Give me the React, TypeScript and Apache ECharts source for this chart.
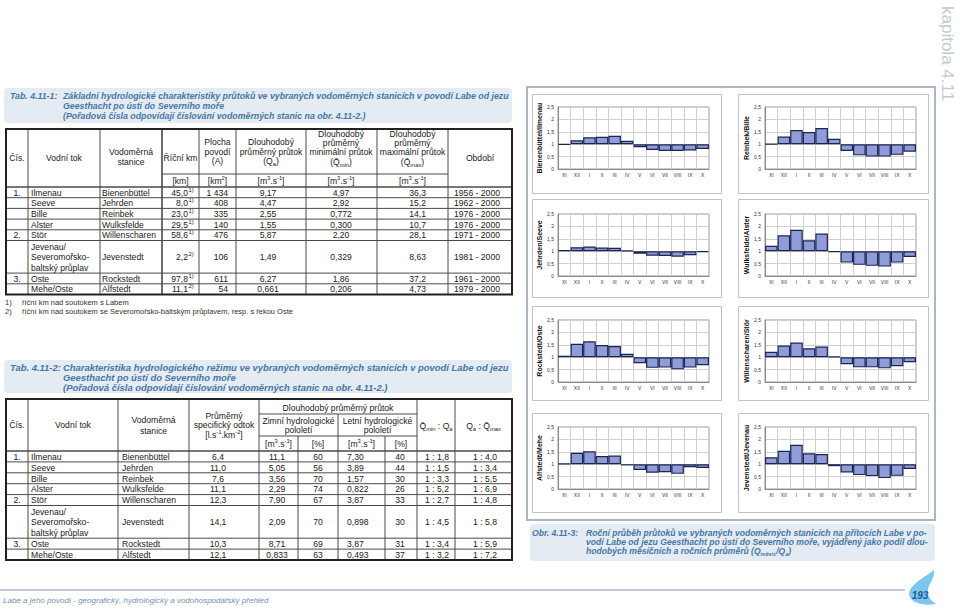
import React, { useEffect, useRef } from "react";
import * as echarts from "echarts";

// ---------------- small charts (Qměsíc / Qa) ----------------
const MONTHS = ["XI", "XII", "I", "II", "III", "IV", "V", "VI", "VII", "VIII", "IX", "X"];
const bienenbuettelIlmenau = [0.98, 1.16, 1.28, 1.3, 1.34, 1.14, 0.88, 0.77, 0.73, 0.73, 0.75, 0.81];
const reinbekBille = [1.01, 1.31, 1.57, 1.49, 1.65, 1.22, 0.73, 0.55, 0.5, 0.5, 0.57, 0.7];
const jehrdenSeeve = [1.04, 1.16, 1.19, 1.15, 1.14, 1.03, 0.9, 0.82, 0.81, 0.78, 0.84, 0.96];
const wulksfeldeAlster = [1.22, 1.64, 1.86, 1.44, 1.71, 0.96, 0.54, 0.45, 0.41, 0.38, 0.54, 0.77];
const rockstedtOste = [1.06, 1.54, 1.64, 1.49, 1.45, 1.14, 0.76, 0.57, 0.58, 0.51, 0.58, 0.68];
const willenscharenStoer = [1.22, 1.47, 1.59, 1.36, 1.43, 1.03, 0.72, 0.59, 0.59, 0.55, 0.64, 0.8];
const alfstedtMehe = [1.02, 1.46, 1.52, 1.33, 1.35, 0.95, 0.77, 0.66, 0.68, 0.61, 0.88, 0.85];
const jevenstedtJevenau = [1.28, 1.54, 1.78, 1.44, 1.41, 0.92, 0.67, 0.56, 0.52, 0.44, 0.53, 0.81];
const CHART_NAMES = [
  "Bienenbüttel/Ilmenau", "Reinbek/Bille",
  "Jehrden/Seeve", "Wulksfelde/Alster",
  "Rockstedt/Oste", "Willenscharen/Stör",
  "Alfstedt/Mehe", "Jevenstedt/Jevenau",
];
const CHART_VALUES = [
  bienenbuettelIlmenau, reinbekBille,
  jehrdenSeeve, wulksfeldeAlster,
  rockstedtOste, willenscharenStoer,
  alfstedtMehe, jevenstedtJevenau,
];

// ---------------- table 4.11-1 ----------------
const T1_CIS = ["1.", "", "", "", "2.", "", "3.", ""];
const T1_TOK = ["Ilmenau", "Seeve", "Bille", "Alster", "Stör", "Jevenau/\nSeveromořsko-\nbaltský průplav", "Oste", "Mehe/Oste"];
const T1_STANICE = ["Bienenbüttel", "Jehrden", "Reinbek", "Wulksfelde", "Willenscharen", "Jevenstedt", "Rockstedt", "Alfstedt"];
const T1_KM = ["45,0", "8,0", "23,0", "29,5", "58,6", "2,2", "97,8", "11,1"];
const T1_KM_NOTE = ["1)", "1)", "1)", "1)", "1)", "2)", "1)", "2)"];
const T1_PLOCHA = ["1 434", "408", "335", "140", "476", "106", "611", "54"];
const T1_QA = ["9,17", "4,47", "2,55", "1,55", "5,87", "1,49", "6,27", "0,661"];
const T1_QMIN = ["4,97", "2,92", "0,772", "0,300", "2,20", "0,329", "1,86", "0,206"];
const T1_QMAX = ["36,3", "15,2", "14,1", "10,7", "28,1", "8,63", "37,2", "4,73"];
const T1_OBDOBI = ["1956 - 2000", "1962 - 2000", "1976 - 2000", "1976 - 2000", "1971 - 2000", "1981 - 2000", "1961 - 2000", "1979 - 2000"];

// ---------------- table 4.11-2 ----------------
const T2_SPEC = ["6,4", "11,0", "7,6", "11,1", "12,3", "14,1", "10,3", "12,1"];
const T2_ZIMA_Q = ["11,1", "5,05", "3,56", "2,29", "7,90", "2,09", "8,71", "0,833"];
const T2_ZIMA_P = ["60", "56", "70", "74", "67", "70", "69", "63"];
const T2_LETO_Q = ["7,30", "3,89", "1,57", "0,822", "3,87", "0,898", "3,87", "0,493"];
const T2_LETO_P = ["40", "44", "30", "26", "33", "30", "31", "37"];
const T2_R1 = ["1 : 1,8", "1 : 1,5", "1 : 3,3", "1 : 5,2", "1 : 2,7", "1 : 4,5", "1 : 3,4", "1 : 3,2"];
const T2_R2 = ["1 : 4,0", "1 : 3,4", "1 : 5,5", "1 : 6,9", "1 : 4,8", "1 : 5,8", "1 : 5,9", "1 : 7,2"];

const CAP1 = [
  "Základní hydrologické charakteristiky průtoků ve vybraných vodoměrných stanicích v povodí Labe od jezu",
  "Geesthacht po ústí do Severního moře",
  "(Pořadová čísla odpovídají číslování vodoměrných stanic na obr. 4.11-2.)",
];
const CAP2 = [
  "Charakteristika hydrologického režimu ve vybraných vodoměrných stanicích v povodí Labe od jezu",
  "Geesthacht po ústí do Severního moře",
  "(Pořadová čísla odpovídají číslování vodoměrných stanic na obr. 4.11-2.)",
];
const CAP3 = [
  "Roční průběh průtoků ve vybraných vodoměrných stanicích na přítocích Labe v po-",
  "vodí Labe od jezu Geesthacht po ústí do Severního moře, vyjádřený jako podíl dlou-",
  "hodobých měsíčních a ročních průměrů (Q",
];
const FOOTNOTES = [
  "říční km nad soutokem s Labem",
  "říční km nad soutokem se Severomořsko-baltským průplavem, resp. s řekou Oste",
];
const FOOTER = "Labe a jeho povodí - geografický, hydrologický a vodohospodářský přehled";

// ---------------- drawing helpers ----------------
const FF = "'Liberation Sans', Arial, Helvetica, sans-serif";
const TXT = "#1a1a1a";
const CAPC = "#4677a6";
const LINE = "#4a4a4a";
const FS = 8.6;

let mctx: any = null;
function tw(text: string, size: number, bold = false, italic = false) {
  if (!mctx) mctx = document.createElement("canvas").getContext("2d");
  mctx.font = `${italic ? "italic " : ""}${bold ? "bold " : ""}${size}px ${FF}`;
  return mctx.measureText(text).width;
}
function T(x: number, y: number, text: string, o: any = {}) {
  const size = o.size || FS;
  return {
    type: "text", x, y, silent: true, rotation: o.rot || 0,
    style: {
      text, fill: o.fill || TXT, fontSize: size, fontFamily: FF,
      fontWeight: o.bold ? "bold" : "normal", fontStyle: o.italic ? "italic" : "normal",
      textAlign: o.align || "left", textVerticalAlign: o.va || "middle",
      lineHeight: o.lh || Math.round(size * 1.15),
    },
  };
}
function L(x1: number, y1: number, x2: number, y2: number, color = LINE, w = 1) {
  return { type: "line", silent: true, shape: { x1, y1, x2, y2 }, style: { stroke: color, lineWidth: w } };
}
function R(x: number, y: number, w: number, h: number, fill: any, stroke: any, lw = 1, r = 0) {
  return { type: "rect", silent: true, shape: { x, y, width: w, height: h, r }, style: { fill: fill || "none", stroke: stroke || "none", lineWidth: lw } };
}
type Part = { t: string; s?: number; dy?: number };
const SUP = (t: string): Part => ({ t, s: 5.8, dy: -3 });
const SUB = (t: string): Part => ({ t, s: 5.8, dy: 2.5 });
function P(x: number, y: number, ps: Part[], align = "left", o: any = {}) {
  const base = o.size || FS;
  const ws = ps.map((p) => tw(p.t, p.s || base, o.bold, o.italic));
  const total = ws.reduce((a, b) => a + b, 0);
  let cx = align === "center" ? x - total / 2 : align === "right" ? x - total : x;
  return ps.map((p, i) => {
    const el = T(cx, y + (p.dy || 0), p.t, { ...o, size: p.s || base, align: "left" });
    cx += ws[i];
    return el;
  });
}
const M3S: Part[] = [{ t: "[m" }, SUP("3"), { t: ".s" }, SUP("-1"), { t: "]" }];

function rowLayout(start: number, texts: string[], h1: number, h3: number) {
  const tops: number[] = [];
  const hs: number[] = [];
  let y = start;
  texts.forEach((t) => {
    const n = t.split("\n").length;
    const h = n === 1 ? h1 : h3;
    tops.push(y); hs.push(h); y += h;
  });
  return { tops, hs, bottom: y };
}

function caption(label: string, lines: string[], bx: number, by: number, bw: number, bh: number, lx: number, tx: number, right: number, y0: number, dy: number, justified: number) {
  const els: any[] = [R(bx, by, bw, bh, "#e4ebf2", null, 0, 4)];
  const w9 = tw(lines[0], 9, true, true);
  let size = Math.min(9.6, (9 * (right - tx)) / w9);
  if (justified > 1) {
    const w92 = tw(lines[1], 9, true, true);
    size = Math.min(size, (9 * (right - tx)) / w92);
  }
  els.push(T(lx, y0, label, { size, bold: true, italic: true, fill: CAPC }));
  lines.forEach((ln, i) => els.push(T(tx, y0 + i * dy, ln, { size, bold: true, italic: true, fill: CAPC })));
  return { els, size };
}

const SWOOSH_D =
  "M 934 570 C 927 576 915 581 910 590 C 906 599 917 607 936 604 C 929 600 926 593 929 586 C 932 580 935 575 934 570 Z";

function buildGraphic() {
  const g: any[] = [];

  // ---------- caption table 1 ----------
  g.push(...caption("Tab. 4.11-1:", CAP1, 4, 88, 508, 35, 10, 63, 509, 96, 10, 1).els);

  // ---------- table 1 ----------
  const X1 = [6, 28, 100, 162, 199, 236, 306, 377, 448, 512];
  const top1 = 129, units1 = 174, head1 = 187;
  const rl1 = rowLayout(head1, T1_TOK, 10.7, 32.6);
  const bot1 = rl1.bottom;
  for (let i = 1; i < X1.length - 1; i++) g.push(L(X1[i], top1, X1[i], bot1, LINE, X1[i] === 162 ? 1.6 : 1));
  g.push(L(162, units1, 448, units1));
  g.push(L(X1[0], head1, X1[X1.length - 1], head1, LINE, 1.6));
  rl1.tops.forEach((t, i) => { if (i > 0) g.push(L(X1[0], t, X1[X1.length - 1], t)); });
  g.push(R(6, top1, 506, bot1 - top1, null, "#222", 2));
  // header
  g.push(T(17, 158, "Čís.", { align: "center" }));
  g.push(T(64, 158, "Vodní tok", { align: "center" }));
  g.push(T(131, 157, "Vodoměrná\nstanice", { align: "center", lh: 10 }));
  g.push(T(180.5, 158, "Říční km", { align: "center" }));
  g.push(T(217.5, 151.5, "Plocha\npovodí\n(A)", { align: "center", lh: 9.7 }));
  g.push(T(271, 146.7, "Dlouhodobý\nprůměrný průtok", { align: "center", lh: 9.6 }));
  g.push(...P(271, 161, [{ t: "(Q" }, SUB("a"), { t: ")" }], "center"));
  g.push(T(341, 143, "Dlouhodobý\nprůměrný\nminimální průtok", { align: "center", lh: 9.3 }));
  g.push(...P(341, 162, [{ t: "(Q\u0304" }, SUB("min"), { t: ")" }], "center"));
  g.push(T(412.5, 143, "Dlouhodobý\nprůměrný\nmaximální průtok", { align: "center", lh: 9.3 }));
  g.push(...P(412.5, 162, [{ t: "(Q\u0304" }, SUB("max"), { t: ")" }], "center"));
  g.push(T(480, 158, "Období", { align: "center" }));
  g.push(T(180.5, 180.5, "[km]", { align: "center" }));
  g.push(...P(217.5, 180.5, [{ t: "[km" }, SUP("2"), { t: "]" }], "center"));
  [271, 341, 412.5].forEach((cx) => g.push(...P(cx, 180.5, M3S, "center")));
  // body
  rl1.tops.forEach((t, i) => {
    const cy = t + rl1.hs[i] / 2 + 0.3;
    g.push(T(17, cy, T1_CIS[i], { align: "center" }));
    g.push(T(31, cy, T1_TOK[i], { lh: 10.5 }));
    g.push(T(102, cy, T1_STANICE[i]));
    g.push(T(188, cy, T1_KM[i], { align: "right" }));
    g.push(T(188.5, cy - 3, T1_KM_NOTE[i], { size: 5.8 }));
    g.push(T(228, cy, T1_PLOCHA[i], { align: "right" }));
    g.push(T(268, cy, T1_QA[i], { align: "center" }));
    g.push(T(341, cy, T1_QMIN[i], { align: "center" }));
    g.push(T(426, cy, T1_QMAX[i], { align: "right" }));
    g.push(T(477, cy, T1_OBDOBI[i], { align: "center" }));
  });
  // footnotes
  FOOTNOTES.forEach((f, i) => {
    g.push(T(5, 302 + i * 9.5, `${i + 1})`, { size: 7.5, fill: "#333" }));
    g.push(T(22, 302 + i * 9.5, f, { size: 7.5, fill: "#333" }));
  });

  // ---------- caption table 2 ----------
  g.push(...caption("Tab. 4.11-2:", CAP2, 4, 360, 508, 33, 10, 63, 509, 367.5, 10, 1).els);

  // ---------- table 2 ----------
  const top2 = 399, hl1 = 414, hl2 = 436, head2 = 451;
  const rl2 = rowLayout(head2, T1_TOK, 10.9, 32.7);
  const bot2 = rl2.bottom;
  [28, 118, 189, 259, 417, 455].forEach((x) => g.push(L(x, top2, x, bot2)));
  g.push(L(338, hl1, 338, bot2));
  g.push(L(298, hl2, 298, bot2));
  g.push(L(385, hl2, 385, bot2));
  g.push(L(259, hl1, 417, hl1));
  g.push(L(259, hl2, 417, hl2));
  g.push(L(6, head2, 512, head2, LINE, 1.6));
  rl2.tops.forEach((t, i) => { if (i > 0) g.push(L(6, t, 512, t)); });
  g.push(R(6, top2, 506, bot2 - top2, null, "#222", 2));
  g.push(T(17, 425, "Čís.", { align: "center" }));
  g.push(T(73, 425, "Vodní tok", { align: "center" }));
  g.push(T(153.5, 425.5, "Vodoměrná\nstanice", { align: "center", lh: 10.5 }));
  g.push(T(224, 415.5, "Průměrný", { align: "center" }));
  g.push(T(224, 425, "specifický odtok", { align: "center" }));
  g.push(...P(224, 435, [{ t: "[l.s" }, SUP("-1"), { t: ".km" }, SUP("-2"), { t: "]" }], "center"));
  g.push(T(338, 407.5, "Dlouhodobý průměrný průtok", { align: "center" }));
  g.push(T(298.5, 425.5, "Zimní hydrologické\npololetí", { align: "center", lh: 9 }));
  g.push(T(377.5, 425.5, "Letní hydrologické\npololetí", { align: "center", lh: 9 }));
  g.push(...P(278.5, 443.5, M3S, "center"));
  g.push(T(318, 443.5, "[%]", { align: "center" }));
  g.push(...P(361.5, 443.5, M3S, "center"));
  g.push(T(401, 443.5, "[%]", { align: "center" }));
  g.push(...P(436, 426, [{ t: "Q\u0304" }, SUB("min"), { t: " : Q" }, SUB("a")], "center"));
  g.push(...P(483.5, 426, [{ t: "Q" }, SUB("a"), { t: " : Q\u0304" }, SUB("max")], "center"));
  rl2.tops.forEach((t, i) => {
    const cy = t + rl2.hs[i] / 2 + 0.3;
    g.push(T(17, cy, T1_CIS[i], { align: "center" }));
    g.push(T(31, cy, T1_TOK[i], { lh: 10.5 }));
    g.push(T(122, cy, T1_STANICE[i]));
    g.push(T(218, cy, T2_SPEC[i], { align: "center" }));
    g.push(T(277, cy, T2_ZIMA_Q[i], { align: "center" }));
    g.push(T(318, cy, T2_ZIMA_P[i], { align: "center" }));
    g.push(T(347, cy, T2_LETO_Q[i]));
    g.push(T(400, cy, T2_LETO_P[i], { align: "center" }));
    g.push(T(437, cy, T2_R1[i], { align: "center" }));
    g.push(T(485, cy, T2_R2[i], { align: "center" }));
  });

  // ---------- chart panels ----------
  g.push(R(527, 87, 408, 433, null, "#aab7c6", 2));
  const PANEL_TOPS = [94, 199, 306, 413];
  const PANEL_H = [99, 98, 94, 99];
  PANEL_TOPS.forEach((pt, r) => {
    g.push(R(532.5, pt + 0.5, 189, PANEL_H[r], null, "#c2c2c2", 1));
    g.push(R(738.5, pt + 0.5, 190, PANEL_H[r], null, "#c2c2c2", 1));
  });

  // ---------- caption figure ----------
  const c3 = caption("Obr. 4.11-3:", CAP3, 530, 524, 405, 37, 532, 586, 928, 533, 9.2, 2);
  g.push(...c3.els);
  const w3 = tw(CAP3[2], c3.size, true, true);
  g.push(...P(586 + w3, 533 + 2 * 9.2, [{ t: "měsíc", s: 5.5, dy: 2.5 }, { t: "/Q" }, { t: "a", s: 5.5, dy: 2.5 }, { t: ")" }], "left", { size: c3.size, bold: true, italic: true, fill: CAPC }));

  // ---------- side label ----------
  g.push(T(947, 6, "kapitola 4.11", { size: 17, fill: "#c3cad2", rot: -Math.PI / 2 }));

  // ---------- footer ----------
  g.push(L(0, 590, 905, 590, "#aab8c8", 1.5));
  g.push(T(3, 600, FOOTER, { size: 8, italic: true, fill: "#7790ad" }));
  g.push({ type: "swoosh", x: 0, y: 0, silent: true, style: { fill: "#7ec6ee", stroke: "none" } });
  g.push(T(920, 595, "193", { size: 10, bold: true, italic: true, fill: "#1d5a98", align: "center" }));
  return g;
}

function buildOption() {
  const LEFTS = [558, 765];
  const TOPS = [107, 214, 320, 427];
  const grid: any[] = [], xAxis: any[] = [], yAxis: any[] = [], series: any[] = [];
  CHART_VALUES.forEach((vals, i) => {
    grid.push({ left: LEFTS[i % 2], top: TOPS[Math.floor(i / 2)], width: 151, height: 62, show: true, borderColor: "#9a9a9a", borderWidth: 1, backgroundColor: "#fff" });
    xAxis.push({
      type: "category", gridIndex: i, data: MONTHS,
      axisTick: { show: false },
      axisLine: { show: true, lineStyle: { color: "#8a8a8a" } },
      axisLabel: { fontSize: 5, color: "#333", margin: 3.5, interval: 0, fontFamily: FF },
      splitLine: { show: true, lineStyle: { color: "#cfcfcf", width: 1 } },
    });
    yAxis.push({
      type: "value", gridIndex: i, min: 0, max: 2.5, interval: 0.5,
      axisLine: { show: true, lineStyle: { color: "#8a8a8a" } },
      axisTick: { show: false },
      axisLabel: { fontSize: 5, color: "#333", margin: 4, fontFamily: FF, formatter: (v: number) => String(v).replace(".", ",") },
      splitLine: { show: true, lineStyle: { color: "#cfcfcf", width: 1 } },
      name: CHART_NAMES[i], nameLocation: "middle", nameGap: 12,
      nameTextStyle: { fontSize: 7, fontWeight: "bold", color: "#111", fontFamily: FF },
    });
    series.push({
      type: "bar", xAxisIndex: i, yAxisIndex: i, stack: "s" + i, silent: true,
      barCategoryGap: "0%", data: vals.map((v) => Math.min(v, 1)),
      itemStyle: { color: "rgba(0,0,0,0)", borderWidth: 0 },
    });
    series.push({
      type: "bar", xAxisIndex: i, yAxisIndex: i, stack: "s" + i, silent: true,
      barCategoryGap: "0%", data: vals.map((v) => Math.abs(v - 1)),
      itemStyle: { color: "#8f9cd7", borderColor: "#1b2552", borderWidth: 1.2 },
    });
  });
  return {
    animation: false,
    backgroundColor: "#ffffff",
    textStyle: { fontFamily: FF },
    grid, xAxis, yAxis, series,
    graphic: { elements: buildGraphic() },
  };
}

export default function App() {
  const ref = useRef<HTMLDivElement>(null);
  useEffect(() => {
    if (!ref.current) return;
    try {
      echarts.graphic.registerShape("swoosh", echarts.graphic.extendPath(SWOOSH_D, {}) as any);
    } catch (e) { /* ignore */ }
    const chart = echarts.init(ref.current, null, { renderer: "svg" });
    chart.setOption(buildOption() as any);
    return () => chart.dispose();
  }, []);
  return <div ref={ref} style={{ position: "fixed", left: 0, top: 0, width: 960, height: 610, background: "#fff" }} />;
}
